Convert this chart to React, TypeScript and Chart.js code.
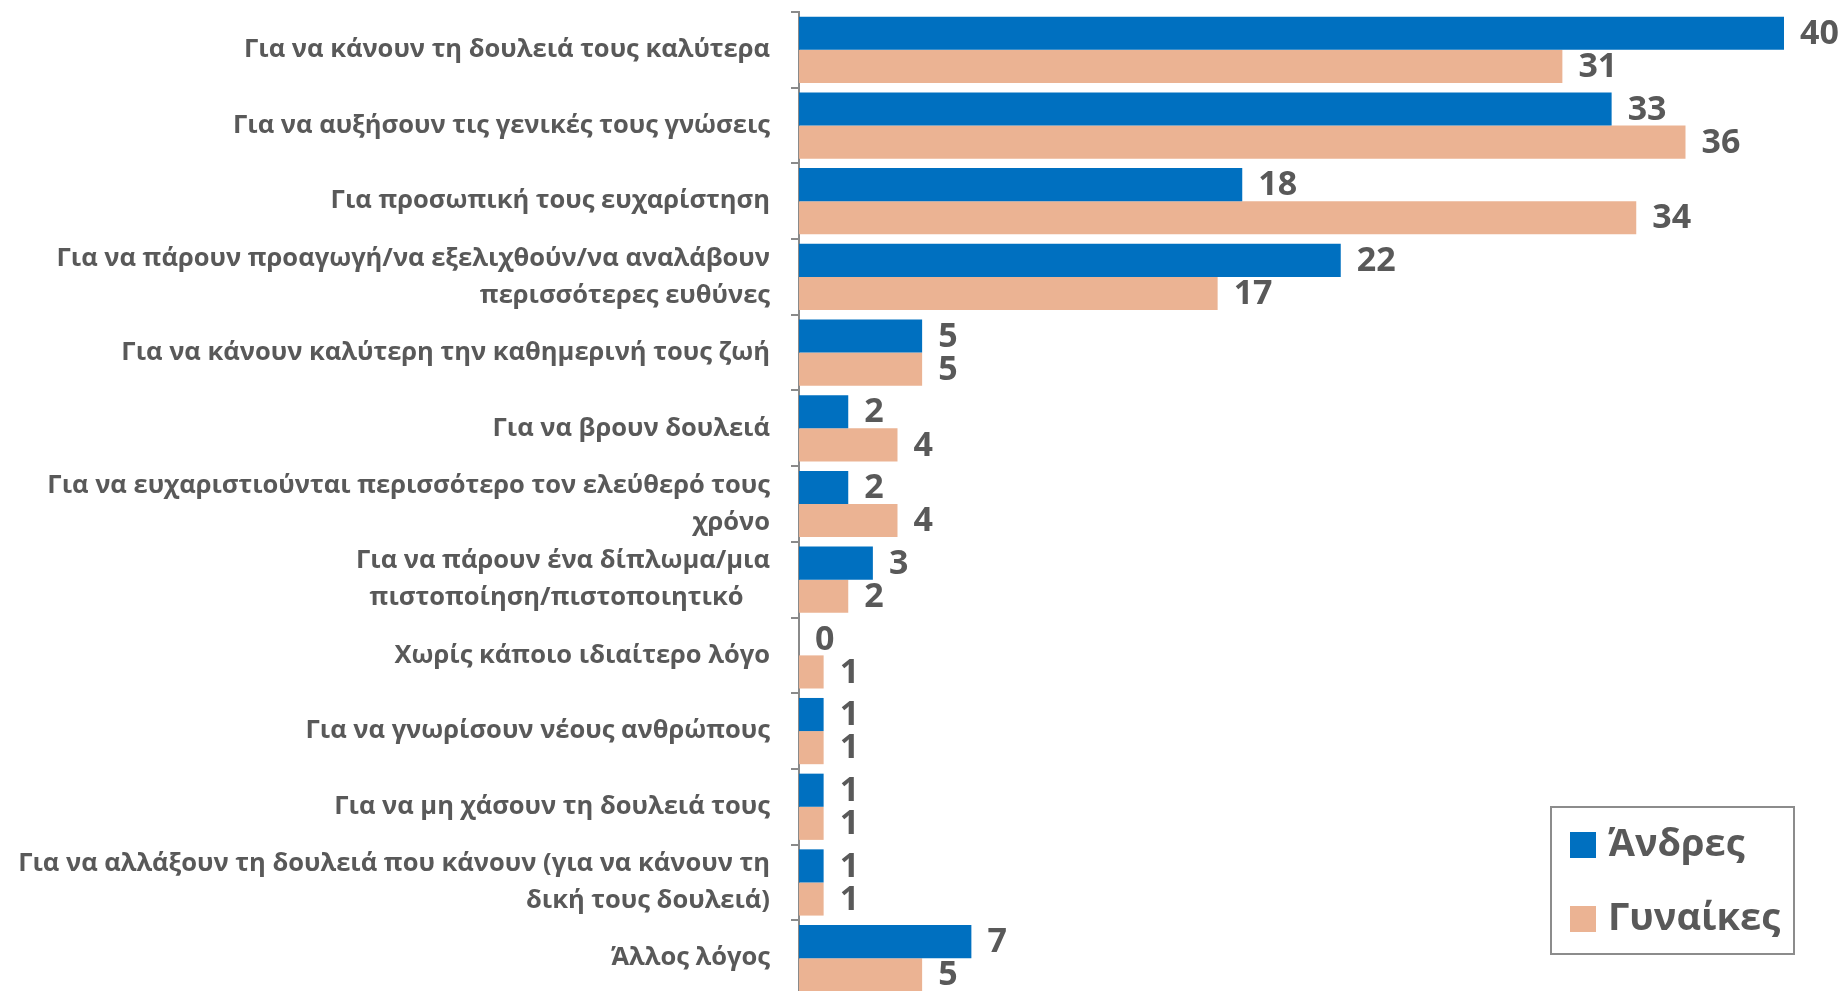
import React, { useEffect, useRef } from "react";
import { Chart, registerables } from "chart.js";

Chart.register(...registerables);

const categories: (string | string[])[] = [
  "Για να κάνουν τη δουλειά τους καλύτερα",
  "Για να αυξήσουν τις γενικές τους γνώσεις",
  "Για προσωπική τους ευχαρίστηση",
  ["Για να πάρουν προαγωγή/να εξελιχθούν/να αναλάβουν", "περισσότερες ευθύνες"],
  "Για να κάνουν καλύτερη την καθημερινή τους ζωή",
  "Για να βρουν δουλειά",
  ["Για να ευχαριστιούνται περισσότερο τον ελεύθερό τους", "χρόνο"],
  ["Για να πάρουν ένα δίπλωμα/μια", "πιστοποίηση/πιστοποιητικό    "],
  "Χωρίς κάποιο ιδιαίτερο λόγο",
  "Για να γνωρίσουν νέους ανθρώπους",
  "Για να μη χάσουν τη δουλειά τους",
  ["Για να αλλάξουν τη δουλειά που κάνουν (για να κάνουν τη", "δική τους δουλειά)"],
  "Άλλος λόγος",
];

const menValues = [40, 33, 18, 22, 5, 2, 2, 3, 0, 1, 1, 1, 7];
const womenValues = [31, 36, 34, 17, 5, 4, 4, 2, 1, 1, 1, 1, 5];

const seriesNames = ["Άνδρες", "Γυναίκες"];
const seriesColors = ["#0070C0", "#EBB393"];

const TEXT_COLOR = "#595959";
const AXIS_COLOR = "#8A8A8A";
const FONT = "'Open Sans', 'Noto Sans', sans-serif";

const valueLabels = {
  id: "valueLabels",
  afterDatasetsDraw(chart: any) {
    const ctx = chart.ctx;
    ctx.save();
    ctx.font = `bold 34px ${FONT}`;
    ctx.fillStyle = TEXT_COLOR;
    ctx.textAlign = "left";
    ctx.textBaseline = "middle";
    chart.data.datasets.forEach((ds: any, i: number) => {
      const meta = chart.getDatasetMeta(i);
      meta.data.forEach((bar: any, j: number) => {
        ctx.fillText(String(ds.data[j]), bar.x + 16, bar.y + 1);
      });
    });
    ctx.restore();
  },
};

const boxLegend = {
  id: "boxLegend",
  afterDraw(chart: any) {
    const ctx = chart.ctx;
    const x0 = 1551;
    const y0 = 807;
    const w = 243;
    const h = 147;
    ctx.save();
    ctx.fillStyle = "#FFFFFF";
    ctx.fillRect(x0, y0, w, h);
    ctx.strokeStyle = "#8C8C8C";
    ctx.lineWidth = 2;
    ctx.strokeRect(x0, y0, w, h);
    ctx.font = `bold 38px ${FONT}`;
    ctx.textAlign = "left";
    ctx.textBaseline = "middle";
    chart.data.datasets.forEach((ds: any, i: number) => {
      const cy = y0 + 38 + i * 74;
      ctx.fillStyle = ds.backgroundColor;
      ctx.fillRect(x0 + 19, cy - 13, 26, 26);
      ctx.fillStyle = TEXT_COLOR;
      ctx.fillText(ds.label, x0 + 57, cy);
    });
    ctx.restore();
  },
};

export default function App() {
  const canvasRef = useRef<HTMLCanvasElement | null>(null);

  useEffect(() => {
    const canvas = canvasRef.current;
    if (!canvas) return;
    const chart = new Chart(canvas, {
      type: "bar",
      data: {
        labels: categories,
        datasets: [
          {
            label: seriesNames[0],
            data: menValues,
            backgroundColor: seriesColors[0],
            barPercentage: 1,
            categoryPercentage: 0.875,
          },
          {
            label: seriesNames[1],
            data: womenValues,
            backgroundColor: seriesColors[1],
            barPercentage: 1,
            categoryPercentage: 0.875,
          },
        ],
      },
      options: {
        indexAxis: "y",
        responsive: false,
        animation: false,
        layout: { padding: { left: 0, right: 59, top: 12, bottom: 0 } },
        plugins: {
          legend: { display: false },
          tooltip: { enabled: false },
        },
        scales: {
          x: { display: false, min: 0, max: 40 },
          y: {
            afterFit(scale: any) {
              scale.width = 799;
              scale.paddingTop = 0;
              scale.paddingBottom = 0;
            },
            border: { display: true, color: AXIS_COLOR, width: 2 },
            grid: {
              display: true,
              drawOnChartArea: false,
              drawTicks: true,
              tickLength: 8,
              color: AXIS_COLOR,
              lineWidth: 2,
            },
            ticks: {
              color: TEXT_COLOR,
              padding: 21,
              font: { family: FONT, size: 25.5, weight: "bold", lineHeight: 1.45 },
              autoSkip: false,
            },
          },
        },
      },
      plugins: [valueLabels, boxLegend],
    });
    return () => chart.destroy();
  }, []);

  return (
    <canvas
      ref={canvasRef}
      width={1843}
      height={996}
      style={{ position: "fixed", left: 0, top: 0, display: "block" }}
    />
  );
}
